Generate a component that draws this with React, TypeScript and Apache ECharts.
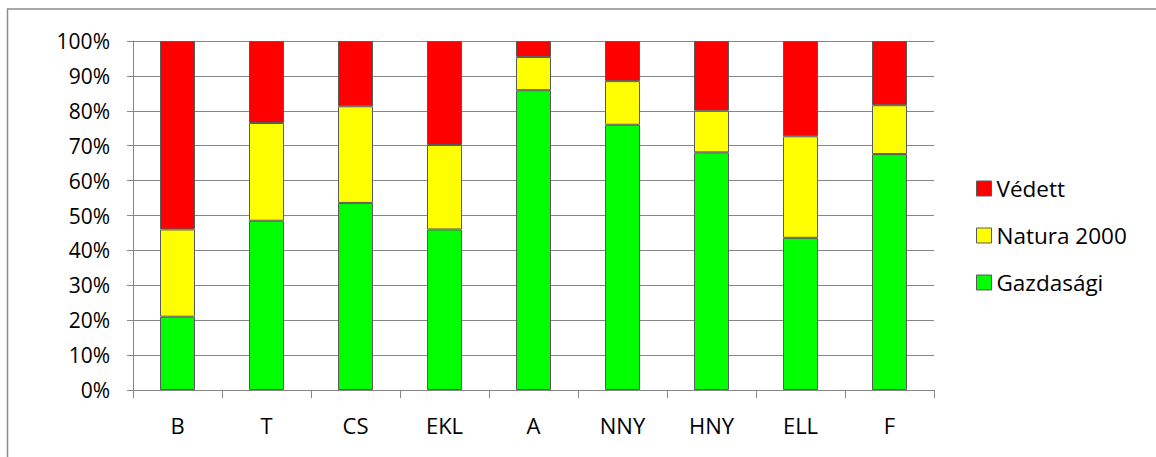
import React, { useEffect, useRef } from "react";
import * as echarts from "echarts";

const categories = ["B", "T", "CS", "EKL", "A", "NNY", "HNY", "ELL", "F"];
const gazdasagi = [21.0, 48.5, 53.6, 46.0, 85.9, 76.0, 68.1, 43.6, 67.6];
const natura2000 = [25.0, 28.0, 27.7, 24.2, 9.5, 12.5, 11.9, 29.1, 14.0];
const vedett = [54.0, 23.5, 18.7, 29.8, 4.6, 11.5, 20.0, 27.3, 18.4];
const yTicks = [0, 10, 20, 30, 40, 50, 60, 70, 80, 90, 100];

const FONT = "'Open Sans', 'Noto Sans', sans-serif";
const GRAY = "#868686";
const BORDER = "#5a5a5a";

export default function App() {
  const ref = useRef<HTMLDivElement>(null);
  useEffect(() => {
    document.body.style.margin = "0";
    const chart = echarts.init(ref.current!, null, { renderer: "svg" });
    const barStyle = (color: string) => ({
      color,
      borderColor: BORDER,
      borderWidth: 1,
    });
    chart.setOption({
      animation: false,
      backgroundColor: "#ffffff",
      textStyle: { fontFamily: FONT },
      graphic: [
        {
          type: "rect",
          shape: { x: 7.5, y: 9, width: 1170, height: 470 },
          style: { fill: "none", stroke: "#8c8c8c", lineWidth: 1.5 },
          silent: true,
        },
      ],
      grid: { left: 133, right: 222, top: 41, bottom: 67, containLabel: false },
      legend: {
        orient: "vertical",
        left: 976,
        top: 177,
        padding: 0,
        itemWidth: 15,
        itemHeight: 15,
        itemGap: 24,
        icon: "rect",
        data: ["Védett", "Natura 2000", "Gazdasági"],
        textStyle: { fontFamily: FONT, fontSize: 22.5, color: "#000", padding: [0, 0, 0, 0] },
        itemStyle: { borderColor: BORDER, borderWidth: 1 },
      },
      xAxis: {
        type: "category",
        data: categories,
        boundaryGap: true,
        axisLine: { show: true, lineStyle: { color: GRAY, width: 1 } },
        axisTick: { show: true, length: 8, lineStyle: { color: GRAY }, alignWithLabel: false },
        axisLabel: { fontFamily: FONT, fontSize: 22, color: "#000", margin: 24 },
        splitLine: { show: false },
      },
      yAxis: {
        type: "value",
        min: 0,
        max: 100,
        interval: 10,
        axisLine: { show: true, lineStyle: { color: GRAY, width: 1 } },
        axisTick: { show: true, length: 6, lineStyle: { color: GRAY } },
        axisLabel: {
          fontFamily: FONT,
          fontSize: 21,
          color: "#000",
          margin: 23,
          formatter: (v: number) => (yTicks.includes(v) ? `${v}%` : ""),
        },
        splitLine: { show: true, lineStyle: { color: GRAY, width: 1 } },
      },
      series: [
        {
          name: "Gazdasági",
          type: "bar",
          stack: "total",
          barWidth: 35,
          data: gazdasagi,
          itemStyle: barStyle("#00ff00"),
        },
        {
          name: "Natura 2000",
          type: "bar",
          stack: "total",
          barWidth: 35,
          data: natura2000,
          itemStyle: barStyle("#ffff00"),
        },
        {
          name: "Védett",
          type: "bar",
          stack: "total",
          barWidth: 35,
          data: vedett,
          itemStyle: barStyle("#ff0000"),
        },
      ],
    });
    return () => chart.dispose();
  }, []);
  return (
    <div
      ref={ref}
      style={{ position: "fixed", left: 0, top: 0, width: 1156, height: 457 }}
    />
  );
}
